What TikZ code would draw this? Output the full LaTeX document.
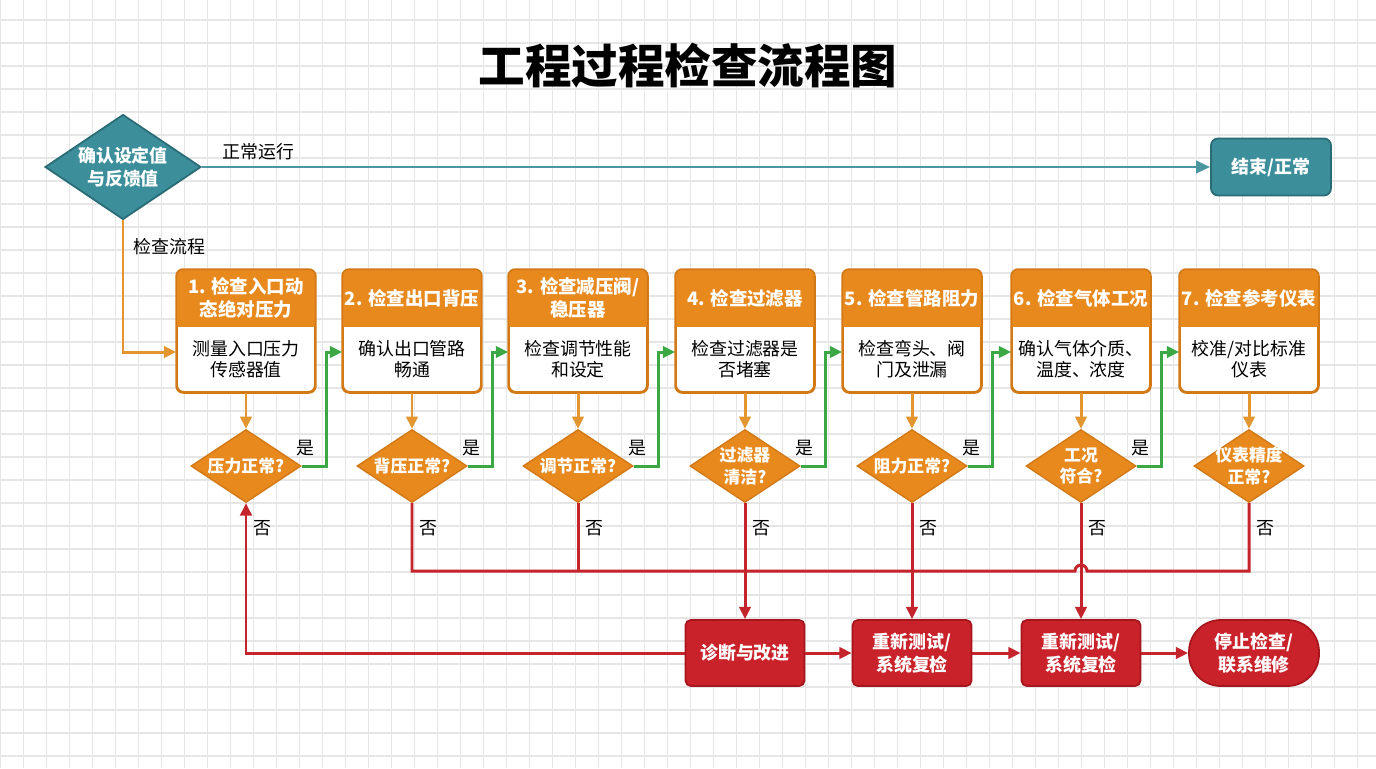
\documentclass[tikz,border=0pt]{standalone}
\usepackage{fontspec}
\setmainfont{Noto Sans CJK SC}
\usepackage{tikz}
\usetikzlibrary{arrows.meta,calc,shapes.geometric}

\definecolor{tealfill}{HTML}{3B8E9A}
\definecolor{tealdark}{HTML}{2A6C76}
\definecolor{tealarrow}{HTML}{4A96A1}
\definecolor{orangefill}{HTML}{E8891E}
\definecolor{orangeline}{HTML}{D27916}
\definecolor{orangearrow}{HTML}{E3952F}
\definecolor{greenline}{HTML}{3BA845}
\definecolor{redfill}{HTML}{C9222A}
\definecolor{redline}{HTML}{A8161D}
\definecolor{redarrow}{HTML}{C4242C}
\definecolor{gridgray}{HTML}{E6E6E6}

\begin{document}
\begin{tikzpicture}[x=0.02cm,y=-0.02cm,
  lab/.style={font=\fontsize{10.2}{12}\selectfont, inner sep=1pt},
  bodytxt/.style={font=\fontsize{10.2}{12.2}\selectfont, align=center},
  headtxt/.style={font=\bfseries\fontsize{10.5}{13}\selectfont, align=center, text=white},
  whtxt/.style={font=\bfseries\fontsize{10.2}{13}\selectfont, align=center, text=white},
  dtxt/.style={font=\bfseries\fontsize{9.6}{12.4}\selectfont, align=center, text=white},
  stepbox/.style={draw=orangeline, fill=white, line width=1pt, rounded corners=4pt,
    minimum width=2.76cm, minimum height=2.44cm, inner sep=0pt},
  decide/.style={diamond, draw=orangeline, fill=orangefill, line width=0.8pt,
    minimum width=2.2cm, minimum height=1.46cm, inner sep=0pt},
  startdia/.style={diamond, draw=tealdark, fill=tealfill, line width=1pt,
    minimum width=3.12cm, minimum height=2.1cm, inner sep=0pt},
  endbox/.style={draw=tealdark, fill=tealfill, line width=1pt, rounded corners=4pt,
    minimum width=2.4cm, minimum height=1.14cm, whtxt},
  redbox/.style={draw=redline, fill=redfill, line width=1pt, rounded corners=3pt,
    minimum width=2.38cm, minimum height=1.32cm, whtxt},
  stopbox/.style={draw=redline, fill=redfill, line width=1pt, rounded corners=18pt,
    minimum width=2.6cm, minimum height=1.32cm, whtxt},
  tarrow/.style={draw=tealarrow, line width=1.6pt, -{Triangle[length=8pt,width=7pt]}},
  oarrow/.style={draw=orangearrow, line width=1.7pt, -{Triangle[length=7pt,width=6.5pt]}},
  garrow/.style={draw=greenline, line width=1.7pt, -{Triangle[length=7pt,width=6.5pt]}},
  rline/.style={draw=redarrow, line width=1.7pt},
  rarrow/.style={rline, -{Triangle[length=7pt,width=6.5pt]}}]

\useasboundingbox (0,0) rectangle (1376,768);
\fill[white] (0,0) rectangle (1376,768);
\foreach \k in {0,...,59}
  \draw[gridgray, line width=0.6pt] (0.7+23*\k,0) -- (0.7+23*\k,768);
\foreach \k in {0,...,32}
  \draw[gridgray, line width=0.6pt] (0,20+23*\k) -- (1376,20+23*\k);

\node[font=\bfseries\fontsize{26.5}{30}\selectfont] (title) at (688,66) {工程过程检查流程图};

\node[startdia, label={[whtxt]center:{确认设定值\\与反馈值}}] (start) at (123,167) {};
\node[endbox] (finish) at (1271,167) {结束/正常};

% step boxes
\foreach \i/\x/\hd/\bd in {
  1/246/{1. 检查入口动\\态绝对压力}/{测量入口压力\\传感器值},
  2/412/{2. 检查出口背压}/{确认出口管路\\畅通},
  3/578/{3. 检查减压阀/\\稳压器}/{检查调节性能\\和设定},
  4/745/{4. 检查过滤器}/{检查过滤器是\\否堵塞},
  5/912/{5. 检查管路阻力}/{检查弯头、阀\\门及泄漏},
  6/1081/{6. 检查气体工况}/{确认气体介质、\\温度、浓度},
  7/1249/{7. 检查参考仪表}/{校准/对比标准\\仪表}}
{
  \node[stepbox] (s\i) at (\x,331) {};
  \begin{scope}
    \clip (s\i.north west) rectangle (s\i.east |- 0,326);
    \fill[orangefill, rounded corners=4pt] (s\i.north west) rectangle (s\i.south east);
  \end{scope}
  \draw[orangeline, line width=1pt, rounded corners=4pt] (s\i.north west) rectangle (s\i.south east);
  \node[headtxt] (h\i) at (\x,298) {\hd};
  \node[bodytxt] (b\i) at (\x,359) {\bd};
  \coordinate (in\i) at (s\i.west |- 0,352);
}

% decisions
\foreach \i/\x/\q in {1/246/{压力正常?}, 2/412/{背压正常?}, 3/578/{调节正常?},
  4/745/{过滤器\\清洁?}, 5/912/{阻力正常?}, 6/1081/{工况\\符合?}, 7/1249/{仪表精度\\正常?}}
  \node[decide, label={[dtxt]center:\q}] (d\i) at (\x,466) {};

\node[redbox] (diag) at (745,653) {诊断与改进};
\node[redbox] (retest1) at (912,653) {重新测试/\\系统复检};
\node[redbox] (retest2) at (1081,653) {重新测试/\\系统复检};
\node[stopbox] (halt) at (1254,653) {停止检查/\\联系维修};

\draw[tarrow] (start.east) -- (finish.west) node[lab, pos=0.056, above=2pt] (run) {正常运行};
\draw[oarrow] (start.south) |- (in1) node[lab, pos=0.1, right=4pt] (flow) {检查流程};

\foreach \i in {1,...,7}
  \draw[oarrow] (s\i.south) -- (d\i.north);
\foreach \i/\j in {1/2,2/3,3/4,4/5,5/6,6/7}
  \draw[garrow] (d\i.east) node[lab, above=4pt, xshift=0.08cm] (yes\i) {是} -- ++(25,0) |- (in\j);
\foreach \i in {1,...,7}
  \node[lab] (no\i) at ($(d\i.south)+(16,25)$) {否};

% red paths
\draw[rarrow] (diag.west) -| (d1.south);
\draw[rline] (d2.south) |- ($(d6.south |- 0,571)+(-6,0)$)
  arc[start angle=180, end angle=0, radius=0.12cm] -- (d7.south |- 0,571) -- (d7.south);
\draw[rline] (d3.south) -- (d3.south |- 0,571);
\draw[rarrow] (d4.south) -- (diag.north);
\draw[rarrow] (d5.south) -- (retest1.north);
\draw[rarrow] (d6.south) -- (retest2.north);
\draw[rarrow] (diag) -- (retest1);
\draw[rarrow] (retest1) -- (retest2);
\draw[rarrow] (retest2) -- (halt);
\end{tikzpicture}
\end{document}
